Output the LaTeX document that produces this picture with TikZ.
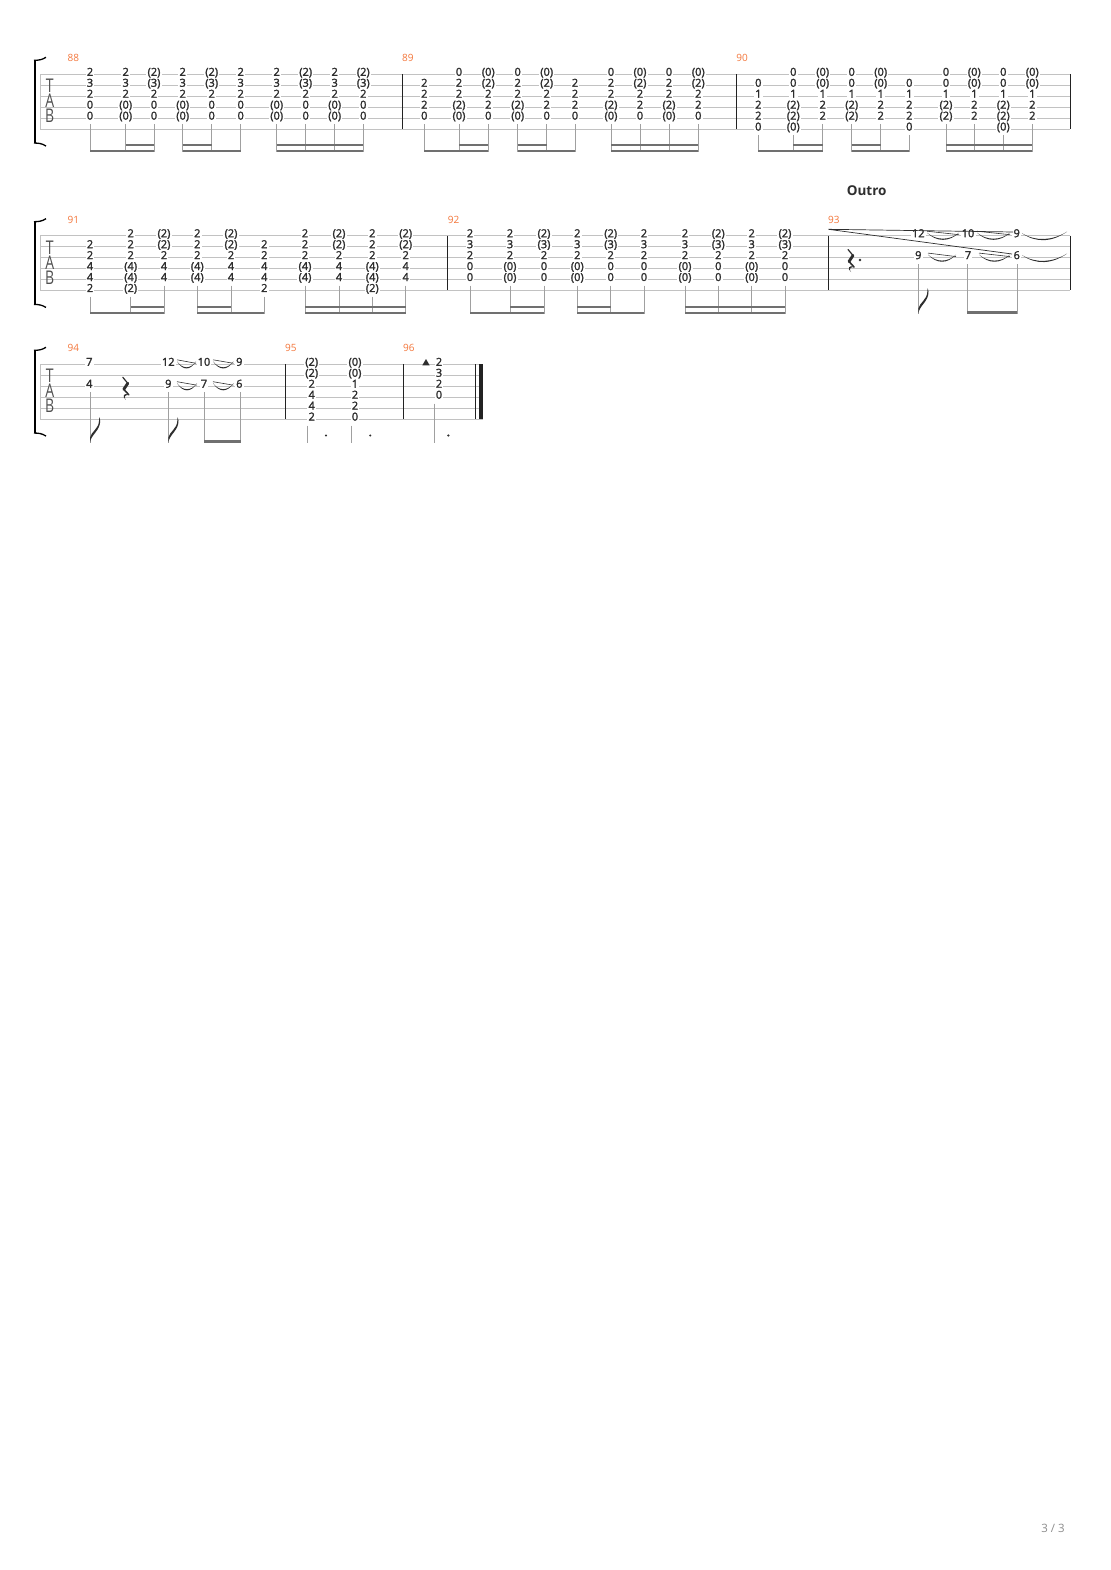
\documentclass[tikz,border=0pt]{standalone}
\usepackage{fontspec}
\setmainfont{Open Sans}
\newfontfamily\fretfont{Open Sans}[FakeBold=2]
\definecolor{staffc}{HTML}{C2C2C2}
\definecolor{barc}{HTML}{222222}
\definecolor{numc}{HTML}{2E2E2E}
\definecolor{mnumc}{HTML}{F4773C}
\definecolor{stemc}{HTML}{A0A0A0}
\definecolor{beamc}{HTML}{707070}
\definecolor{tabc}{HTML}{505050}
\definecolor{pagec}{HTML}{8C8C8C}
\tikzset{
  staffline/.style={draw=staffc, line width=0.7pt},
  barline/.style={draw=barc, line width=0.9pt},
  fret/.style={anchor=base, fill=white, inner xsep=1.2pt, inner ysep=0pt, text height=7pt, text depth=0pt, font=\fretfont\fontsize{11}{11}\selectfont, text=numc},
  mnum/.style={anchor=base west, inner sep=0pt, font=\fontsize{10}{10}\selectfont, text=mnumc},
  tabletter/.style={inner sep=0pt, anchor=north, text=tabc},
  stemline/.style={draw=stemc, line width=0.9pt},
  beamline/.style={draw=beamc, line width=2.3pt},
  bracketline/.style={draw=black, line width=2.6pt},
  hookline/.style={draw=black, line width=1.3pt},
}
% staff: #1 top y, #2 x start, #3 x end
\newcommand\tabstaff[3]{\foreach \i in {0,...,5}{\draw[staffline] (#2,{#1+\i*10.95}) -- (#3,{#1+\i*10.95});}
  \draw[staffline] (#2,#1) -- (#2,{#1+54.75});}
\newcommand\tabbar[2]{\draw[barline] (#1,#2) -- (#1,{#2+54.75});}
\newcommand\tabbracket[2]{%
  \draw[bracketline] (35,{#1-13.5}) -- (35,{#1+68.25});
  \draw[hookline] (34,{#1-14}) .. controls (39,{#1-14}) and (42,{#1-14.5}) .. (46,{#1-17});
  \draw[hookline] (34,{#1+68.75}) .. controls (39,{#1+68.75}) and (42,{#1+69.25}) .. (46,{#1+71.75});
  \node[tabletter] (#2) at (49.7,{#1+4.75}) {\scalebox{1}[1.35]{\parbox{12pt}{\centering\fontsize{14}{11.1}\selectfont T\\A\\B}}};}
\newcommand\tcn[3]{\if\relax\detokenize{#3}\relax\else\node[fret] at (#1,{#2+1.5}) {#3};\fi}
\newcommand\tc[8]{\tcn{#1}{#2}{#3}\tcn{#1}{#2+10.95}{#4}\tcn{#1}{#2+21.9}{#5}\tcn{#1}{#2+32.85}{#6}\tcn{#1}{#2+43.8}{#7}\tcn{#1}{#2+54.75}{#8}}
\newcommand\grpa[5]{\draw[beamline] (#1,#4) -- (#3,#4); \draw[beamline] (#2,#5) -- (#3,#5);}
\newcommand\grpb[5]{\draw[beamline] (#1,#4) -- (#3,#4); \draw[beamline] (#1,#5) -- (#2,#5);}
\newcommand\grpc[4]{\draw[beamline] (#1,#3) -- (#2,#3); \draw[beamline] (#1,#4) -- (#2,#4);}
% slide + slur between x1 and x2 on line y
\newcommand\slideslur[3]{%
  \fill[numc] (#1,{#3-3}) .. controls ({#1+(#2-#1)*0.3},{#3+6.5}) and ({#1+(#2-#1)*0.7},{#3+6.5}) .. (#2,{#3-3})
     .. controls ({#1+(#2-#1)*0.7},{#3+5}) and ({#1+(#2-#1)*0.3},{#3+5}) .. cycle;
  \draw[numc, line width=0.6pt] (#1,{#3-4.5}) -- (#2,{#3-1});}
\newcommand\tieout[1]{%
  \fill[numc] (1022,{#1-2.5}) .. controls (1036,{#1+7.5}) and (1052,{#1+6.5}) .. (1067,{#1-4})
     .. controls (1052,{#1+5}) and (1036,{#1+6}) .. cycle;}
\newcommand\qrest[2]{%
  \draw[numc, line width=1.2pt, line cap=round] ({#1-2.5},{#2-11}) -- ({#1+2.5},{#2-5});
  \draw[numc, line width=2.8pt, line cap=round] ({#1+2.5},{#2-5}) -- ({#1-1.5},{#2+1});
  \draw[numc, line width=1.6pt, line cap=round] ({#1-1.5},{#2+1}) -- ({#1+3.5},{#2+6.5});
  \fill[numc] ({#1+3.5},{#2+6.5}) .. controls ({#1-1},{#2+4}) and ({#1-4},{#2+8}) .. ({#1+0.5},{#2+11.5})
     .. controls ({#1-2},{#2+8.5}) and ({#1},{#2+6.5}) .. ({#1+3.5},{#2+6.5});}
\newcommand\tflag[2]{%
  \fill[numc] (#1,#2) .. controls ({#1+1},{#2-8}) and ({#1+10.5},{#2-12}) .. ({#1+10.2},{#2-22})
    .. controls ({#1+10.1},{#2-23.5}) .. ({#1+9.3},{#2-25.5})
    .. controls ({#1+9},{#2-24}) .. ({#1+9},{#2-21.5})
    .. controls ({#1+8.8},{#2-14}) and ({#1+1.5},{#2-11}) .. ({#1},{#2-5}) -- cycle;}
\begin{document}
\begin{tikzpicture}[x=1pt,y=-1pt]
\useasboundingbox (0,0) rectangle (1110,1570);
\fill[white] (0,0) rectangle (1110,1570);

% ================= SYSTEM 1 =================
\tabstaff{74.3}{40}{1070}
\tabbracket{74.3}{tab1}
\tabbar{402}{74.3}\tabbar{736.7}{74.3}\tabbar{1070}{74.3}
\node[mnum] (m88) at (67.5,61.9) {88};
\node[mnum] (m89) at (402,61.9) {89};
\node[mnum] (m90) at (736.2,61.9) {90};
% m88
\tc{90}{74.3}{2}{3}{2}{0}{0}{}
\tc{125.7}{74.3}{2}{3}{2}{(0)}{(0)}{}
\tc{154}{74.3}{(2)}{(3)}{2}{0}{0}{}
\tc{182.7}{74.3}{2}{3}{2}{(0)}{(0)}{}
\tc{211.7}{74.3}{(2)}{(3)}{2}{0}{0}{}
\tc{240.7}{74.3}{2}{3}{2}{0}{0}{}
\tc{276.7}{74.3}{2}{3}{2}{(0)}{(0)}{}
\tc{305.7}{74.3}{(2)}{(3)}{2}{0}{0}{}
\tc{334.7}{74.3}{2}{3}{2}{(0)}{(0)}{}
\tc{363.3}{74.3}{(2)}{(3)}{2}{0}{0}{}
% m89
\tc{424.3}{74.3}{}{2}{2}{2}{0}{}
\tc{459}{74.3}{0}{2}{2}{(2)}{(0)}{}
\tc{488.3}{74.3}{(0)}{(2)}{2}{2}{0}{}
\tc{517.7}{74.3}{0}{2}{2}{(2)}{(0)}{}
\tc{546.7}{74.3}{(0)}{(2)}{2}{2}{0}{}
\tc{575}{74.3}{}{2}{2}{2}{0}{}
\tc{611}{74.3}{0}{2}{2}{(2)}{(0)}{}
\tc{640}{74.3}{(0)}{(2)}{2}{2}{0}{}
\tc{669}{74.3}{0}{2}{2}{(2)}{(0)}{}
\tc{698.3}{74.3}{(0)}{(2)}{2}{2}{0}{}
% m90
\tc{758.3}{74.3}{}{0}{1}{2}{2}{0}
\tc{793.3}{74.3}{0}{0}{1}{(2)}{(2)}{(0)}
\tc{822.7}{74.3}{(0)}{(0)}{1}{2}{2}{}
\tc{851.7}{74.3}{0}{0}{1}{(2)}{(2)}{}
\tc{880.7}{74.3}{(0)}{(0)}{1}{2}{2}{}
\tc{909.3}{74.3}{}{0}{1}{2}{2}{0}
\tc{946}{74.3}{0}{0}{1}{(2)}{(2)}{}
\tc{974.3}{74.3}{(0)}{(0)}{1}{2}{2}{}
\tc{1003.3}{74.3}{0}{0}{1}{(2)}{(2)}{(0)}
\tc{1032.3}{74.3}{(0)}{(0)}{1}{2}{2}{}
% stems system 1
\foreach \x in {90,125.7,154,182.7,211.7,240.7,276.7,305.7,334.7,363.3,
  424.3,459,488.3,517.7,546.7,575,611,640,669,698.3,822.7,851.7,880.7,946,974.3,1032.3}
  {\draw[stemline] (\x,124.1) -- (\x,152.3);}
\foreach \x in {758.3,793.3,909.3,1003.3}{\draw[stemline] (\x,135) -- (\x,152.3);}
\grpa{90}{125.7}{154}{151.2}{144.9}
\grpb{182.7}{211.7}{240.7}{151.2}{144.9}
\grpc{276.7}{363.3}{151.2}{144.9}
\grpa{424.3}{459}{488.3}{151.2}{144.9}
\grpb{517.7}{546.7}{575}{151.2}{144.9}
\grpc{611}{698.3}{151.2}{144.9}
\grpa{758.3}{793.3}{822.7}{151.2}{144.9}
\grpb{851.7}{880.7}{909.3}{151.2}{144.9}
\grpc{946}{1032.3}{151.2}{144.9}

% ================= SYSTEM 2 =================
\tabstaff{235.7}{40}{1070}
\tabbracket{235.7}{tab2}
\tabbar{447.7}{235.7}\tabbar{828.3}{235.7}\tabbar{1070}{235.7}
\node[mnum] (m91) at (67.5,223.6) {91};
\node[mnum] (m92) at (447.7,223.6) {92};
\node[mnum] (m93) at (828,223.3) {93};
\node[font=\bfseries\fontsize{13.5}{14}\selectfont, text=numc, inner sep=0pt] (outro) at (866.7,190.7) {Outro};
% m91
\tc{90}{235.7}{}{2}{2}{4}{4}{2}
\tc{130.7}{235.7}{2}{2}{2}{(4)}{(4)}{(2)}
\tc{164}{235.7}{(2)}{(2)}{2}{4}{4}{}
\tc{197.3}{235.7}{2}{2}{2}{(4)}{(4)}{}
\tc{231}{235.7}{(2)}{(2)}{2}{4}{4}{}
\tc{264.3}{235.7}{}{2}{2}{4}{4}{2}
\tc{305}{235.7}{2}{2}{2}{(4)}{(4)}{}
\tc{339}{235.7}{(2)}{(2)}{2}{4}{4}{}
\tc{372.3}{235.7}{2}{2}{2}{(4)}{(4)}{(2)}
\tc{405.7}{235.7}{(2)}{(2)}{2}{4}{4}{}
% m92
\tc{470}{235.7}{2}{3}{2}{0}{0}{}
\tc{510}{235.7}{2}{3}{2}{(0)}{(0)}{}
\tc{544}{235.7}{(2)}{(3)}{2}{0}{0}{}
\tc{577.3}{235.7}{2}{3}{2}{(0)}{(0)}{}
\tc{610.7}{235.7}{(2)}{(3)}{2}{0}{0}{}
\tc{644}{235.7}{2}{3}{2}{0}{0}{}
\tc{685}{235.7}{2}{3}{2}{(0)}{(0)}{}
\tc{718.3}{235.7}{(2)}{(3)}{2}{0}{0}{}
\tc{751.7}{235.7}{2}{3}{2}{(0)}{(0)}{}
\tc{785}{235.7}{(2)}{(3)}{2}{0}{0}{}
% m93
\qrest{850.5}{260.5}
\fill[numc] (860,260) circle (1.3);
\tc{918.3}{235.7}{12}{}{9}{}{}{}
\tc{968}{235.7}{10}{}{7}{}{}{}
\tc{1016.7}{235.7}{9}{}{6}{}{}{}
\slideslur{927}{959}{235.7}
\slideslur{977}{1010}{235.7}
\slideslur{928}{956}{257.6}
\slideslur{979}{1010}{257.6}
\tieout{235.7}
\tieout{257.6}
\draw[numc, line width=0.7pt] (1013,232) -- (828.3,229.3) -- (1012,254);
% stems system 2
\foreach \x in {164,197.3,231,305,339,405.7,470,510,544,577.3,610.7,644,685,718.3,751.7,785}
  {\draw[stemline] (\x,285.5) -- (\x,314.4);}
\foreach \x in {90,130.7,264.3,372.3}{\draw[stemline] (\x,296.5) -- (\x,314.4);}
\grpa{90}{130.7}{164}{313.3}{307}
\grpb{197.3}{231}{264.3}{313.3}{307}
\grpc{305}{405.7}{313.3}{307}
\grpa{470}{510}{544}{313.3}{307}
\grpb{577.3}{610.7}{644}{313.3}{307}
\grpc{685}{785}{313.3}{307}
\foreach \x in {918.3,967.3,1017.3}{\draw[stemline] (\x,264) -- (\x,313.5);}
\tflag{918.3}{313.5}
\draw[beamline] (967.3,312.4) -- (1017.3,312.4);

% ================= SYSTEM 3 =================
\tabstaff{364.3}{40}{482.7}
\tabbracket{364.3}{tab3}
\tabbar{285.7}{364.3}\tabbar{403.3}{364.3}\tabbar{475.7}{364.3}
\fill[barc] (478.7,364.3) rectangle (482.7,419.05);
\node[mnum] (m94) at (67.5,351.9) {94};
\node[mnum] (m95) at (285,351.9) {95};
\node[mnum] (m96) at (403,351.9) {96};
% m94
\tc{89.3}{364.3}{7}{}{4}{}{}{}
\qrest{125.3}{388.3}
\tc{168.3}{364.3}{12}{}{9}{}{}{}
\tc{204}{364.3}{10}{}{7}{}{}{}
\tc{239.3}{364.3}{9}{}{6}{}{}{}
\slideslur{177}{196}{364.3}
\slideslur{213}{233.5}{364.3}
\slideslur{177}{197}{386.2}
\slideslur{213}{233.5}{386.2}
\foreach \x in {90,168.3,204,240.5}{\draw[stemline] (\x,392) -- (\x,442.5);}
\tflag{90}{442.5}
\tflag{168.3}{442.5}
\draw[beamline] (204,441.6) -- (240.5,441.6);
% m95
\tc{311.7}{364.3}{(2)}{(2)}{2}{4}{4}{2}
\tc{355}{364.3}{(0)}{(0)}{1}{2}{2}{0}
\draw[stemline] (307.3,425.5) -- (307.3,442.5);
\draw[stemline] (351,425.5) -- (351,442.5);
\fill[numc] (326,435.5) circle (1.2);
\fill[numc] (370.2,435.5) circle (1.2);
% m96
\fill[numc] (422.3,365.3) -- (429.6,365.3) -- (426,359) -- cycle;
\tc{439}{364.3}{2}{3}{2}{0}{}{}
\draw[stemline] (434.3,403.5) -- (434.3,442.5);
\fill[numc] (448.3,435.5) circle (1.2);

% page number
\node[text=pagec, font=\fontsize{11.5}{12}\selectfont, inner sep=0pt] (pagenum) at (1053,1528.3) {3 / 3};
\end{tikzpicture}
\end{document}
